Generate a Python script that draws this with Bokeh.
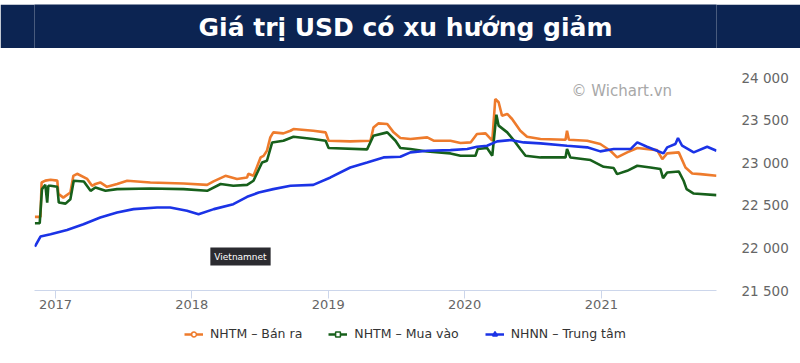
import pandas as pd
from bokeh.plotting import figure
from bokeh.models import (Range1d, FixedTicker, DatetimeTickFormatter,
                          Legend, LegendItem, Label, ColumnDataSource, Spacer)
from bokeh.layouts import column
from bokeh.embed import file_html
from bokeh.resources import INLINE

TITLE = "Giá trị USD có xu hướng giảm"
SERIES_NAMES = ["NHTM – Bán ra", "NHTM – Mua vào", "NHNN – Trung tâm"]

ora_dates = ["2016-11-07","2016-11-22","2016-11-25","2016-12-05","2016-12-19","2017-01-06","2017-01-09","2017-01-22","2017-02-10","2017-02-18","2017-02-28","2017-03-27","2017-04-09","2017-04-18","2017-05-01","2017-05-19","2017-06-15","2017-07-12","2017-09-12","2017-12-10","2018-02-11","2018-02-28","2018-04-01","2018-05-02","2018-05-29","2018-06-01","2018-06-15","2018-07-04","2018-07-12","2018-07-21","2018-07-30","2018-08-07","2018-09-03","2018-09-22","2018-09-30","2018-11-22","2018-12-25","2019-01-02","2019-03-01","2019-04-24","2019-05-02","2019-05-15","2019-06-08","2019-06-25","2019-07-13","2019-08-09","2019-09-23","2019-10-10","2019-11-24","2019-12-21","2020-01-17","2020-02-03","2020-02-26","2020-03-15","2020-03-23","2020-04-01","2020-04-10","2020-04-24","2020-05-07","2020-05-29","2020-06-16","2020-07-22","2020-09-27","2020-10-01","2020-10-06","2020-11-24","2020-12-29","2021-01-25","2021-02-12","2021-03-11","2021-04-07","2021-05-30","2021-06-13","2021-06-26","2021-07-27","2021-08-14","2021-09-01","2021-09-23","2021-11-05"]
ora_vals = [22364,22364,22768,22790,22800,22790,22635,22590,22650,22846,22870,22810,22729,22750,22768,22717,22750,22788,22768,22756,22740,22780,22846,22808,22827,22870,22846,23062,23080,23140,23297,23356,23344,23375,23395,23375,23356,23258,23250,23258,23414,23461,23455,23356,23290,23278,23297,23258,23258,23231,23238,23337,23344,23258,23748,23709,23552,23572,23513,23375,23305,23278,23270,23375,23270,23258,23219,23140,23062,23121,23172,23148,23043,23109,23121,22944,22874,22866,22846]

grn_dates = ["2016-11-07","2016-11-20","2016-11-26","2016-12-05","2016-12-10","2016-12-13","2016-12-19","2017-01-06","2017-01-10","2017-01-28","2017-02-10","2017-02-19","2017-03-18","2017-04-05","2017-04-18","2017-05-15","2017-06-15","2017-09-12","2017-12-10","2018-02-11","2018-03-19","2018-04-22","2018-05-29","2018-06-15","2018-07-08","2018-07-21","2018-08-04","2018-09-03","2018-09-30","2018-11-22","2018-12-25","2019-01-02","2019-04-15","2019-05-02","2019-06-08","2019-06-30","2019-07-13","2019-08-09","2019-09-23","2019-11-24","2019-12-21","2020-01-30","2020-02-05","2020-03-01","2020-03-15","2020-03-26","2020-04-01","2020-04-24","2020-05-16","2020-05-29","2020-06-12","2020-07-22","2020-09-27","2020-10-01","2020-10-10","2020-12-03","2021-01-07","2021-02-03","2021-02-12","2021-03-11","2021-04-07","2021-05-12","2021-06-08","2021-06-15","2021-06-26","2021-07-27","2021-08-09","2021-08-17","2021-09-05","2021-11-05"]
grn_vals = [22290,22290,22690,22740,22532,22729,22729,22717,22532,22520,22572,22788,22780,22670,22709,22670,22690,22697,22690,22670,22750,22729,22740,22788,23003,23023,23238,23258,23305,23278,23258,23172,23156,23317,23356,23258,23172,23160,23132,23109,23082,23082,23160,23172,23082,23564,23435,23356,23238,23160,23082,23062,23062,23160,23062,23031,22952,22937,22866,22905,22964,22944,22925,22819,22885,22897,22788,22690,22638,22619]

blu_dates = ["2016-11-07","2016-11-22","2016-12-19","2017-02-01","2017-03-17","2017-05-01","2017-06-15","2017-07-29","2017-09-30","2017-11-04","2017-12-19","2018-01-19","2018-03-01","2018-04-22","2018-05-29","2018-06-29","2018-08-07","2018-09-22","2018-11-22","2019-01-07","2019-03-01","2019-04-15","2019-05-29","2019-07-13","2019-08-09","2019-09-23","2019-11-24","2020-01-08","2020-02-03","2020-03-01","2020-03-28","2020-05-03","2020-06-07","2020-07-22","2020-10-01","2020-11-24","2020-12-29","2021-02-03","2021-03-20","2021-04-07","2021-05-03","2021-05-30","2021-06-16","2021-06-26","2021-07-18","2021-07-25","2021-08-05","2021-09-05","2021-10-11","2021-11-05"]
blu_vals = [22015,22133,22160,22211,22278,22356,22415,22455,22474,22474,22435,22396,22455,22513,22600,22650,22690,22729,22740,22827,22944,23003,23062,23070,23121,23140,23148,23160,23187,23199,23250,23266,23238,23227,23199,23180,23133,23160,23160,23238,23187,23140,23109,23180,23219,23290,23199,23121,23187,23140]

y_ticks = [21500, 22000, 22500, 23000, 23500, 24000]
y_tick_labels = ["21 500", "22 000", "22 500", "23 000", "23 500", "24 000"]
x_tick_years = [2017, 2018, 2019, 2020, 2021]
x_start, x_end = "2016-11-06", "2021-11-05"

ORANGE = "#ee7b2c"
GREEN = "#17601b"
BLUE = "#1b33e6"
NAVY = "#0c2452"
FONT = "DejaVu Sans"

# frames of all children are aligned by the column; plot frame spans x 34..716
FRAME_LEFT = 34


def bare_figure(height, fill):
    f = figure(width=800, height=height, x_range=(0, 1), y_range=(0, 1),
               x_axis_location=None, y_axis_location=None,
               toolbar_location=None, output_backend="svg", min_border=0,
               outline_line_color=None, background_fill_color=fill, border_fill_color=fill)
    f.grid.visible = False
    return f


# ---- banner ----
banner = bare_figure(44, NAVY)
banner.add_layout(Label(x=405 - FRAME_LEFT, y=21, x_units="screen", y_units="screen", text=TITLE,
                        text_align="center", text_baseline="middle",
                        text_font=FONT, text_font_style="bold",
                        text_font_size="25px", text_color="white"))

# ---- main chart ----
p = figure(width=800, height=270, x_axis_type="datetime", y_axis_location="right",
           x_range=Range1d(pd.Timestamp(x_start), pd.Timestamp(x_end)),
           y_range=Range1d(y_ticks[0], y_ticks[-1]),
           toolbar_location=None, output_backend="svg",
           min_border_left=FRAME_LEFT, min_border_right=84, min_border_top=29, min_border_bottom=28,
           outline_line_color=None, background_fill_color="white", border_fill_color="white")
p.grid.visible = False

src_o = ColumnDataSource(dict(x=pd.to_datetime(ora_dates), y=ora_vals))
src_g = ColumnDataSource(dict(x=pd.to_datetime(grn_dates), y=grn_vals))
src_b = ColumnDataSource(dict(x=pd.to_datetime(blu_dates), y=blu_vals))

p.line("x", "y", source=src_o, line_color=ORANGE, line_width=2.6)
p.line("x", "y", source=src_g, line_color=GREEN, line_width=2.6)
p.line("x", "y", source=src_b, line_color=BLUE, line_width=2.6)

# y axis (right)
ya = p.yaxis[0]
ya.ticker = FixedTicker(ticks=y_ticks)
ya.major_label_overrides = dict(zip(y_ticks, y_tick_labels))
ya.axis_line_color = None
ya.major_tick_line_color = None
ya.minor_tick_line_color = None
ya.major_label_standoff = 19
ya.major_label_text_color = "#666666"
ya.major_label_text_font = FONT
ya.major_label_text_font_size = "13.5px"

# x axis
xa = p.xaxis[0]
xa.ticker = FixedTicker(ticks=[pd.Timestamp(f"{y}-01-01").value / 1e6 for y in x_tick_years])
fmt = "%Y"
xa.formatter = DatetimeTickFormatter(years=fmt, months=fmt, days=fmt, hours=fmt,
                                     hourmin=fmt, minutes=fmt, minsec=fmt, seconds=fmt,
                                     milliseconds=fmt, microseconds=fmt)
xa.axis_line_color = "#ccd6eb"
xa.major_tick_line_color = "#ccd6eb"
xa.minor_tick_line_color = None
xa.major_tick_out = 8
xa.major_tick_in = 0
xa.major_label_standoff = 1
xa.major_label_text_color = "#666666"
xa.major_label_text_font = FONT
xa.major_label_text_font_size = "13px"

p.add_layout(Label(x=537, y=200, x_units="screen", y_units="screen", text="© Wichart.vn",
                   text_align="left", text_baseline="middle", text_font=FONT,
                   text_font_size="15px", text_color="#a8a8a8"))
p.add_layout(Label(x=206, y=34, x_units="screen", y_units="screen", text="Vietnamnet",
                   text_align="center", text_baseline="middle", text_font=FONT,
                   text_font_size="9px", text_color="white",
                   background_fill_color="#2b2b30", padding=4))

# ---- legend strip ----
lf = bare_figure(45, "white")
nan = float("nan")
items = []
for name, col, mk, fill in [(SERIES_NAMES[0], ORANGE, "circle", "white"),
                            (SERIES_NAMES[1], GREEN, "square", "white"),
                            (SERIES_NAMES[2], BLUE, "triangle", BLUE)]:
    rl = lf.line(x=[nan], y=[nan], line_color=col, line_width=2.5)
    rm = lf.scatter(x=[nan], y=[nan], marker=mk, fill_color=fill, line_color=col, line_width=1.5)
    items.append(LegendItem(label=name, renderers=[rl, rm]))
legend = Legend(items=items, orientation="horizontal", location=(184 - FRAME_LEFT, 22),
                glyph_width=19, glyph_height=12, label_standoff=7, spacing=26,
                padding=0, margin=0, border_line_color=None, background_fill_alpha=0,
                label_text_font=FONT, label_text_font_size="12.5px", label_text_color="#333333")
lf.add_layout(legend)

layout = column(Spacer(width=800, height=4), banner, p, lf, spacing=0)
open("out.html", "w").write(file_html(layout, INLINE))
